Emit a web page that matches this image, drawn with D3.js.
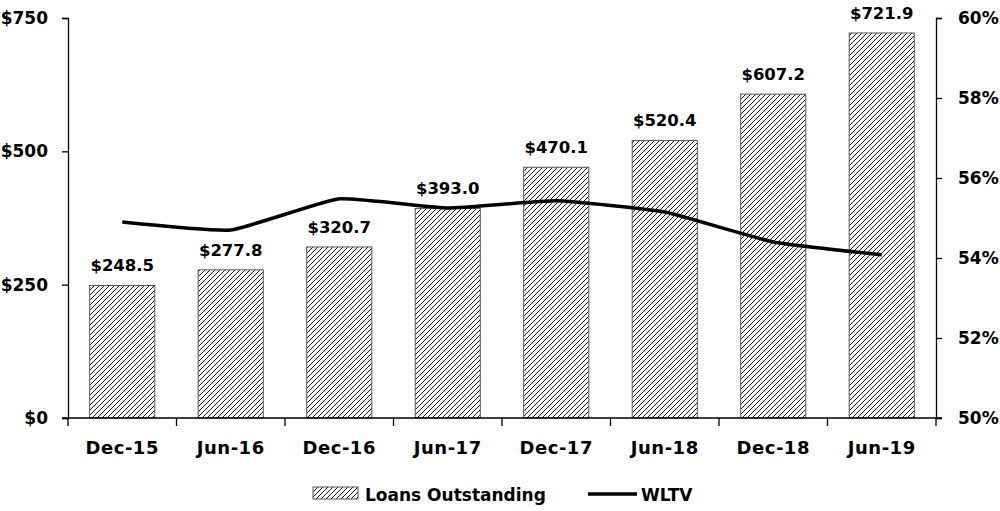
<!DOCTYPE html>
<html><head><meta charset="utf-8">
<script src="https://cdn.jsdelivr.net/npm/d3@7"></script>
<style>body{margin:0;background:#fff}text{font-family:"DejaVu Sans",sans-serif;font-weight:700;fill:#000}</style>
</head><body><svg id="c" width="1000" height="511"></svg>
<script>
const categories=["Dec-15","Jun-16","Dec-16","Jun-17","Dec-17","Jun-18","Dec-18","Jun-19"];
const loans=[248.5,277.8,320.7,393.0,470.1,520.4,607.2,721.9];
const wltv=[54.9,54.7,55.48,55.25,55.43,55.15,54.4,54.08];
const leftTicks=[0,250,500,750];
const rightTicks=[50,52,54,56,58,60];

const svg=d3.select("#c");
const L=68,R=936,T=18,B=418;
const x=d3.scaleBand().domain(categories).range([L,R]).paddingInner(0.4).paddingOuter(0.2);
const xb=d3.scaleBand().domain(categories).range([L,R]);
const y=d3.scaleLinear().domain([0,750]).range([B,T]);
const y2=d3.scaleLinear().domain([50,60]).range([B,T]);

const defs=svg.append("defs");
const pat=defs.append("pattern").attr("id","hatch").attr("patternUnits","userSpaceOnUse").attr("width",5).attr("height",5);
pat.append("rect").attr("width",5).attr("height",5).attr("fill","#fff");
pat.append("path").attr("d","M-1,1 l2,-2 M0,5 l5,-5 M4,6 l2,-2").attr("stroke","#000").attr("stroke-width",0.9);

svg.selectAll("rect.bar").data(loans).enter().append("rect").attr("class","bar")
 .attr("x",(d,i)=>x(categories[i])).attr("width",x.bandwidth())
 .attr("y",d=>y(d)).attr("height",d=>B-y(d))
 .attr("fill","url(#hatch)").attr("stroke","#555").attr("stroke-width",1);

svg.selectAll("text.val").data(loans).enter().append("text")
 .attr("x",(d,i)=>x(categories[i])+x.bandwidth()/2).attr("y",d=>y(d)-14)
 .attr("text-anchor","middle").attr("font-size",16.5).text(d=>"$"+d.toFixed(1));

const line=d3.line().x((d,i)=>xb(categories[i])+xb.bandwidth()/2).y(d=>y2(d)).curve(d3.curveCardinal.tension(0.6));
svg.append("path").datum(wltv).attr("d",line).attr("fill","none").attr("stroke","#000").attr("stroke-width",3.5);

const ax=g=>{g.selectAll(".domain").attr("stroke","#000").attr("stroke-width",1.3);g.selectAll(".tick line").attr("stroke","#000").attr("stroke-width",1.3);g.selectAll("text").attr("font-size",17).style("font-family","'DejaVu Sans',sans-serif").style("font-weight",700);};

svg.append("g").attr("transform",`translate(${L},0)`)
 .call(d3.axisLeft(y).tickValues(leftTicks).tickFormat(d=>"$"+d).tickSizeOuter(0).tickSize(6).tickPadding(14)).call(ax);
svg.append("g").attr("transform",`translate(${R},0)`)
 .call(d3.axisRight(y2).tickValues(rightTicks).tickFormat(d=>d+"%").tickSizeOuter(0).tickSize(6).tickPadding(16)).call(ax);

const xg=svg.append("g").attr("transform",`translate(0,${B})`);
xg.append("line").attr("x1",L-6).attr("x2",R+6).attr("stroke","#000").attr("stroke-width",1.3);
xg.selectAll("line.t").data(categories.concat(["end"])).enter().append("line")
 .attr("x1",(d,i)=>L+i*xb.bandwidth()).attr("x2",(d,i)=>L+i*xb.bandwidth()).attr("y1",0).attr("y2",8).attr("stroke","#000").attr("stroke-width",1.3);
xg.selectAll("text").data(categories).enter().append("text")
 .attr("x",d=>xb(d)+xb.bandwidth()/2).attr("y",36).attr("text-anchor","middle").attr("font-size",18).attr("letter-spacing",0.5).text(d=>d);

const lg=svg.append("g");
lg.append("rect").attr("x",313).attr("y",487).attr("width",45).attr("height",12).attr("fill","url(#hatch)").attr("stroke","#555");
lg.append("text").attr("x",365).attr("y",501).attr("font-size",17).text("Loans Outstanding");
lg.append("line").attr("x1",588).attr("x2",637).attr("y1",494).attr("y2",494).attr("stroke","#000").attr("stroke-width",3.5);
lg.append("text").attr("x",641).attr("y",501).attr("font-size",17).text("WLTV");
</script></body></html>
